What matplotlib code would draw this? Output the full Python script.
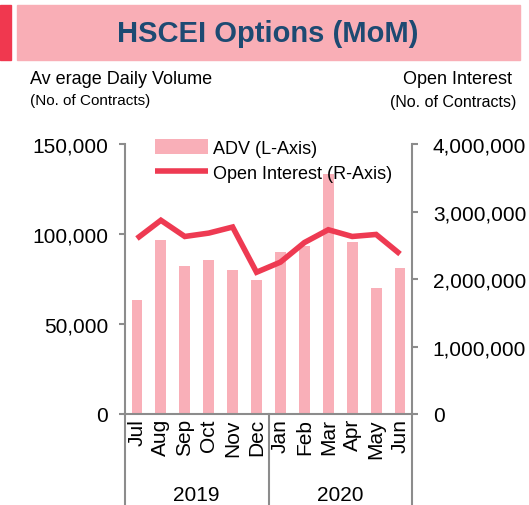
import matplotlib.pyplot as plt
from matplotlib.patches import Rectangle
from matplotlib.ticker import FuncFormatter

plt.rcParams['font.family'] = ['Liberation Sans', 'DejaVu Sans']

# data
months = ['Jul', 'Aug', 'Sep', 'Oct', 'Nov', 'Dec',
          'Jan', 'Feb', 'Mar', 'Apr', 'May', 'Jun']
years = ['2019', '2020']
adv = [63300, 96700, 82400, 85600, 80000, 74400,
       90000, 93500, 133300, 95600, 70000, 81000]
open_interest = [2600000, 2870000, 2630000, 2680000, 2770000, 2100000,
                 2250000, 2540000, 2730000, 2630000, 2660000, 2370000]

bar_color = '#F9AFB8'
line_color = '#EE3A52'
spine_color = '#8C8C8C'
W, H = 529, 506

fig = plt.figure(figsize=(W / 100, H / 100), dpi=100)

# title banner
fig.patches.append(Rectangle((0, 1 - 61 / H), 11 / W, 55 / H,
                             transform=fig.transFigure, color='#F0384F'))
fig.patches.append(Rectangle((17 / W, 1 - 61 / H), 503 / W, 55 / H,
                             transform=fig.transFigure, color='#F9AEB6'))
fig.text(268 / W, 1 - 34 / H, 'HSCEI Options (MoM)', ha='center', va='center',
         fontsize=21, fontweight='bold', color='#1D4A72')

# axis captions
fig.text(30 / W, 1 - 80 / H, 'Av erage Daily Volume', fontsize=13,
         ha='left', va='center')
fig.text(30 / W, 1 - 101 / H, '(No. of Contracts)', fontsize=11,
         ha='left', va='center')
fig.text(512 / W, 1 - 80 / H, 'Open Interest', fontsize=13,
         ha='right', va='center')
fig.text(516 / W, 1 - 103 / H, '(No. of Contracts)', fontsize=11.5,
         ha='right', va='center')

ax = fig.add_axes([125 / W, (H - 415) / H, 287 / W, 270 / H])
ax2 = ax.twinx()

x = range(len(months))
bars = ax.bar(x, adv, width=0.45, color=bar_color, label='ADV (L-Axis)')
line, = ax2.plot(x, open_interest, color=line_color, lw=4,
                 solid_joinstyle='miter', solid_capstyle='butt',
                 label='Open Interest (R-Axis)')

ax.set_xlim(-0.5, len(months) - 0.5)
ax.set_ylim(0, 150000)
ax.set_yticks([0, 50000, 100000, 150000])
ax2.set_ylim(0, 4000000)
ax2.set_yticks([0, 1000000, 2000000, 3000000, 4000000])
fmt = FuncFormatter(lambda v, p: f'{int(v):,}')
ax.yaxis.set_major_formatter(fmt)
ax2.yaxis.set_major_formatter(fmt)

for a in (ax, ax2):
    for s in a.spines.values():
        s.set_color(spine_color)
        s.set_linewidth(1.5)
    a.spines['top'].set_visible(False)
    a.tick_params(axis='y', colors=spine_color, labelcolor='black',
                  labelsize=15, length=4, width=1.5, direction='out')
ax.tick_params(axis='y', pad=8)
ax2.tick_params(axis='y', pad=11)
ax.spines['right'].set_visible(False)
ax2.spines['left'].set_visible(False)
ax2.spines['bottom'].set_visible(False)

ax.set_xticks(list(x))
ax.set_xticklabels(months, rotation=90, fontsize=15)
ax.tick_params(axis='x', length=0, pad=3)

# year groups and separators below the axis
sep_bottom = -(H - 415) / 270
for xs in (-0.5, 5.5, 11.5):
    ax.plot([xs, xs], [0, sep_bottom], transform=ax.get_xaxis_transform(),
            color=spine_color, lw=1.5, clip_on=False)
for i, yr in enumerate(years):
    ax.text(2.5 + 6 * i, -0.30, yr, transform=ax.get_xaxis_transform(),
            ha='center', va='center', fontsize=15)

ax2.legend([bars, line], ['ADV (L-Axis)', 'Open Interest (R-Axis)'],
           loc='upper left', bbox_to_anchor=(0.08, 1.045), frameon=False,
           fontsize=13, handlelength=2.9, handleheight=0.9,
           labelspacing=0.4, handletextpad=0.3, borderaxespad=0)

fig.savefig('out.png', dpi=100)
